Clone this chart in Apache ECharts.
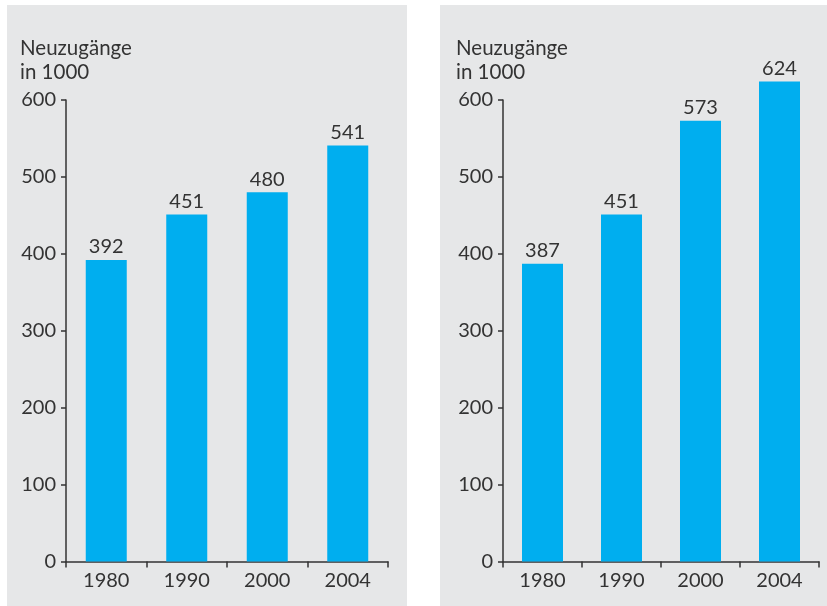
<!DOCTYPE html>
<html>
<head>
<meta charset="utf-8">
<script src="https://cdn.jsdelivr.net/npm/echarts@6/dist/echarts.min.js"></script>
<style>
html,body{margin:0;padding:0;background:#fff;width:827px;height:606px;overflow:hidden;}
.panel{position:absolute;background:#e6e7e8;}
#p1{left:7px;top:5px;width:400px;height:601px;}
#p2{left:440px;top:5px;width:387px;height:601px;}
</style>
</head>
<body>
<div id="p1" class="panel"></div>
<div id="p2" class="panel"></div>
<script>
const years = ['1980', '1990', '2000', '2004'];
const valuesLeft = [392, 451, 480, 541];
const valuesRight = [387, 451, 573, 624];
const axisTitle = 'Neuzugänge\nin 1000';

const FONT = 'Lato, "Open Sans", sans-serif';
const TXT = '#333333';

function makeOption(values, grid, titleLeft) {
  return {
    backgroundColor: 'transparent',
    animation: false,
    textStyle: { fontFamily: FONT },
    title: {
      text: axisTitle,
      left: titleLeft,
      top: 31,
      padding: 0,
      textStyle: { fontFamily: FONT, fontSize: 20.5, fontWeight: 'normal', color: TXT, lineHeight: 24 }
    },
    grid: grid,
    xAxis: {
      type: 'category',
      data: years,
      boundaryGap: true,
      axisLine: { show: true, lineStyle: { color: TXT, width: 1.5 } },
      axisTick: { show: true, length: 6, alignWithLabel: false, lineStyle: { color: TXT, width: 1.5 } },
      axisLabel: { color: TXT, fontSize: 20, fontFamily: FONT, margin: 9 }
    },
    yAxis: {
      type: 'value',
      min: 0,
      max: 600,
      interval: 100,
      axisLine: { show: true, lineStyle: { color: TXT, width: 1.5 } },
      axisTick: { show: true, length: 5, lineStyle: { color: TXT, width: 1.5 } },
      splitLine: { show: false },
      axisLabel: { color: TXT, fontSize: 20, fontFamily: FONT, margin: 10 }
    },
    series: [{
      type: 'bar',
      data: values,
      barWidth: 41,
      clip: false,
      itemStyle: { color: '#00aeef' },
      label: { show: true, position: 'top', distance: 3, color: TXT, fontSize: 20, fontFamily: FONT }
    }]
  };
}

const c1 = echarts.init(document.getElementById('p1'), null, { renderer: 'canvas' });
c1.setOption(makeOption(valuesLeft, { left: 59, right: 19, top: 95, bottom: 44.5, containLabel: false }, 13));
const c2 = echarts.init(document.getElementById('p2'), null, { renderer: 'canvas' });
c2.setOption(makeOption(valuesRight, { left: 63, right: 8, top: 95, bottom: 44.5, containLabel: false }, 16));
</script>
</body>
</html>
